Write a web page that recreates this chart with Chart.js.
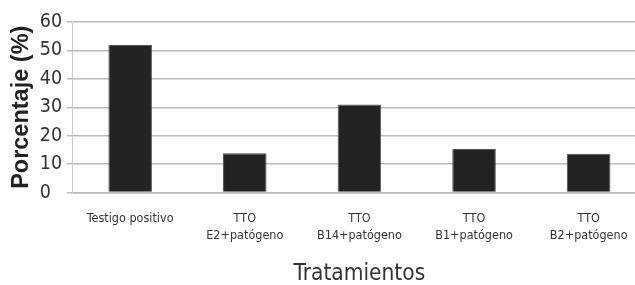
<!DOCTYPE html>
<html>
<head>
<meta charset="utf-8">
<script src="https://cdn.jsdelivr.net/npm/chart.js@4"></script>
<style>
  html, body { margin: 0; padding: 0; background: #fff; overflow: hidden; }
  /* the plot runs past the right edge in the original, so the canvas is a little wider than the window */
  #wrap { width: 646px; height: 285px; }
</style>
</head>
<body>
<div id="wrap"><canvas id="barChart"></canvas></div>
<script>
// data
const categories = [
  "Testigo positivo",
  ["TTO", "E2+patógeno"],
  ["TTO", "B14+patógeno"],
  ["TTO", "B1+patógeno"],
  ["TTO", "B2+patógeno"]
]
const percentages = [51.9, 13.8, 31.0, 15.3, 13.6]
const yTicks = [0, 10, 20, 30, 40, 50, 60]

const narrow = "'Liberation Sans Narrow', 'Arial Narrow', 'DejaVu Sans Condensed', sans-serif"

// Setup block
const data = {
  labels: categories,
  datasets: [{
    label: "Porcentaje",
    data: percentages,
    backgroundColor: "#232323",
    borderColor: "#555555",
    borderWidth: 1,
    barPercentage: 0.38,
    categoryPercentage: 1
  }]
}

// Config block
const config = {
  type: 'bar',
  data: data,
  options: {
    responsive: true,
    maintainAspectRatio: false,
    animation: false,
    layout: {
      padding: { top: 22, right: 0, bottom: 0, left: 0 }
    },
    plugins: {
      legend: { display: false },
      tooltip: { enabled: false },
      title: {
        display: true,
        position: 'left',
        fullSize: false,
        text: "Porcentaje (%)",
        color: "#222",
        font: { family: "'Liberation Sans', Arial, sans-serif", size: 23.5, weight: 'bold', lineHeight: 1.1 },
        padding: { top: 9, bottom: 5 }
      }
    },
    scales: {
      x: {
        grid: { display: false, drawTicks: false },
        border: { display: true, color: "#bbbbbb", width: 1.5 },
        ticks: {
          color: "#333",
          padding: 17,
          maxRotation: 0,
          font: { family: narrow, size: 12.5, lineHeight: 1.4 }
        },
        title: {
          display: true,
          text: "Tratamientos",
          color: "#333",
          font: { family: narrow, size: 22.5, lineHeight: 1 },
          padding: { top: 1, bottom: 0 }
        }
      },
      y: {
        min: 0,
        max: 60,
        afterBuildTicks: scale => {
          scale.ticks = yTicks.map(v => ({ value: v }))
        },
        afterFit: scale => {
          scale.width = 33
        },
        grid: { color: "#bbbbbb", lineWidth: 1.5, tickLength: 6 },
        border: { display: true, color: "#cccccc", width: 1 },
        ticks: {
          color: "#333",
          padding: 6,
          autoSkip: false,
          crossAlign: 'far',
          font: { family: narrow, size: 19.5, lineHeight: 1.2 }
        }
      }
    }
  }
}

// Render block
const barChart = new Chart(document.querySelector("#barChart"), config)
</script>
</body>
</html>
